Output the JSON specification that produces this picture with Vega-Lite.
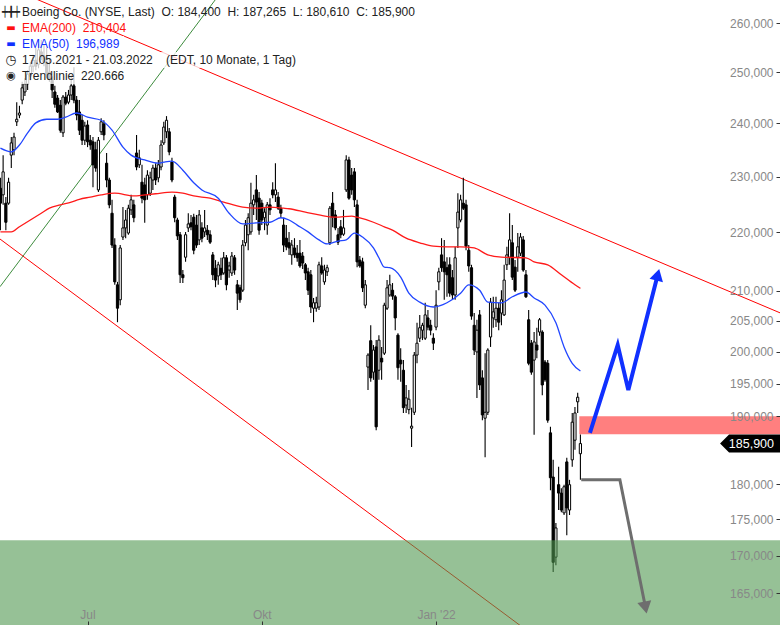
{
  "$schema": "https://vega.github.io/schema/vega-lite/v6.json",
  "width": 780,
  "height": 625,
  "autosize": {"type": "none"},
  "padding": 0,
  "background": "#ffffff",
  "config": {"view": {"stroke": null}, "font": "Liberation Sans"},
  "datasets": {
    "candles": [
      {"t":0,"o":227.9,"h":229.8,"l":220.4,"c":225.2},{"t":1,"o":226.7,"h":234.0,"l":224.9,"c":230.9},{"t":2,"o":225.2,"h":226.3,"l":220.4,"c":221.8},{"t":3,"o":225.2,"h":229.8,"l":224.9,"c":229.0},{"t":4,"o":234.0,"h":237.4,"l":231.6,"c":236.3},
      {"t":5,"o":235.0,"h":238.2,"l":234.0,"c":237.4},{"t":6,"o":240.3,"h":244.1,"l":239.5,"c":240.8},{"t":7,"o":241.6,"h":243.4,"l":241.0,"c":242.0},{"t":8,"o":244.5,"h":248.1,"l":243.7,"c":246.9},{"t":9,"o":246.1,"h":248.8,"l":245.3,"c":247.7},
      {"t":10,"o":247.7,"h":250.4,"l":246.5,"c":249.6},{"t":11,"o":249.2,"h":252.0,"l":248.4,"c":251.2},{"t":12,"o":251.2,"h":253.5,"l":250.0,"c":252.4},{"t":13,"o":252.4,"h":254.9,"l":250.4,"c":251.2},{"t":14,"o":251.6,"h":255.7,"l":250.8,"c":254.5},
      {"t":15,"o":254.1,"h":256.5,"l":252.4,"c":253.3},{"t":16,"o":253.3,"h":255.5,"l":251.2,"c":252.0},{"t":17,"o":252.0,"h":254.9,"l":248.8,"c":249.6},{"t":18,"o":250.0,"h":252.8,"l":248.1,"c":248.8},{"t":19,"o":248.4,"h":249.2,"l":244.9,"c":246.5},
      {"t":20,"o":246.1,"h":247.3,"l":243.0,"c":243.7},{"t":21,"o":244.9,"h":245.5,"l":242.0,"c":242.2},{"t":22,"o":243.5,"h":244.5,"l":238.2,"c":238.7},{"t":23,"o":238.2,"h":245.5,"l":237.4,"c":245.1},{"t":24,"o":245.1,"h":246.1,"l":243.5,"c":243.9},
      {"t":25,"o":244.1,"h":246.5,"l":243.7,"c":245.5},{"t":26,"o":245.5,"h":249.4,"l":244.5,"c":247.3},{"t":27,"o":247.3,"h":251.0,"l":243.9,"c":244.5},{"t":28,"o":244.5,"h":245.3,"l":240.6,"c":241.6},{"t":29,"o":242.2,"h":244.5,"l":237.8,"c":238.7},
      {"t":30,"o":240.6,"h":241.6,"l":235.9,"c":236.8},{"t":31,"o":236.8,"h":240.3,"l":235.9,"c":239.5},{"t":32,"o":239.7,"h":240.6,"l":235.5,"c":236.5},{"t":33,"o":236.8,"h":237.8,"l":235.0,"c":235.9},{"t":34,"o":236.5,"h":237.4,"l":228.1,"c":232.2},
      {"t":35,"o":235.0,"h":236.5,"l":230.9,"c":231.6},{"t":36,"o":227.6,"h":237.4,"l":227.2,"c":236.8},{"t":37,"o":238.4,"h":241.0,"l":237.8,"c":240.3},{"t":38,"o":239.9,"h":240.6,"l":236.8,"c":237.8},{"t":39,"o":232.5,"h":234.4,"l":228.1,"c":229.4},
      {"t":40,"o":229.4,"h":229.8,"l":224.3,"c":224.9},{"t":41,"o":223.4,"h":225.8,"l":217.3,"c":217.8},{"t":42,"o":217.8,"h":219.0,"l":211.0,"c":211.5},{"t":43,"o":211.0,"h":211.5,"l":204.8,"c":207.1},{"t":44,"o":208.5,"h":217.8,"l":207.6,"c":217.3},
      {"t":45,"o":219.2,"h":224.5,"l":218.7,"c":220.8},{"t":46,"o":220.8,"h":224.0,"l":219.0,"c":222.2},{"t":47,"o":219.9,"h":224.9,"l":219.6,"c":224.3},{"t":48,"o":224.0,"h":226.7,"l":223.1,"c":225.8},{"t":49,"o":224.9,"h":225.8,"l":221.8,"c":222.6},
      {"t":50,"o":234.4,"h":237.8,"l":231.2,"c":231.8},{"t":51,"o":232.2,"h":235.0,"l":231.6,"c":233.5},{"t":52,"o":229.0,"h":232.2,"l":225.2,"c":226.1},{"t":53,"o":228.5,"h":229.8,"l":221.7,"c":225.8},{"t":54,"o":226.7,"h":231.2,"l":225.8,"c":230.3},
      {"t":55,"o":227.0,"h":230.9,"l":226.5,"c":229.8},{"t":56,"o":229.4,"h":232.2,"l":227.6,"c":231.6},{"t":57,"o":231.6,"h":232.5,"l":228.5,"c":229.4},{"t":58,"o":229.8,"h":233.1,"l":229.0,"c":232.2},{"t":59,"o":231.8,"h":236.8,"l":231.2,"c":235.9},
      {"t":60,"o":236.3,"h":240.3,"l":235.9,"c":239.3},{"t":61,"o":238.4,"h":241.4,"l":237.2,"c":240.6},{"t":62,"o":238.4,"h":239.1,"l":234.0,"c":234.6},{"t":63,"o":232.7,"h":233.5,"l":229.0,"c":229.4},{"t":64,"o":226.3,"h":226.7,"l":221.8,"c":222.6},
      {"t":65,"o":222.2,"h":222.6,"l":218.7,"c":219.4},{"t":66,"o":219.6,"h":220.1,"l":211.3,"c":212.7},{"t":67,"o":212.7,"h":213.5,"l":211.3,"c":212.2},{"t":68,"o":215.7,"h":220.1,"l":214.9,"c":219.6},{"t":69,"o":220.8,"h":223.4,"l":220.1,"c":221.5},
      {"t":70,"o":221.7,"h":223.1,"l":220.4,"c":221.0},{"t":71,"o":222.7,"h":223.3,"l":216.2,"c":216.9},{"t":72,"o":221.3,"h":223.1,"l":217.3,"c":217.8},{"t":73,"o":218.7,"h":224.0,"l":217.8,"c":223.1},{"t":74,"o":220.8,"h":221.8,"l":218.3,"c":219.0},
      {"t":75,"o":220.1,"h":224.0,"l":219.2,"c":220.8},{"t":76,"o":220.4,"h":221.3,"l":218.7,"c":219.6},{"t":77,"o":219.6,"h":220.4,"l":218.0,"c":218.3},{"t":78,"o":216.1,"h":216.6,"l":211.8,"c":212.7},{"t":79,"o":213.8,"h":215.2,"l":210.6,"c":211.8},
      {"t":80,"o":212.5,"h":214.9,"l":211.0,"c":214.4},{"t":81,"o":213.8,"h":215.6,"l":211.8,"c":212.7},{"t":82,"o":213.0,"h":216.6,"l":212.7,"c":215.6},{"t":83,"o":215.6,"h":216.1,"l":210.1,"c":211.0},{"t":84,"o":213.5,"h":214.9,"l":212.2,"c":214.2},
      {"t":85,"o":213.0,"h":216.6,"l":212.5,"c":215.9},{"t":86,"o":215.6,"h":216.1,"l":212.7,"c":213.5},{"t":87,"o":211.0,"h":211.8,"l":206.8,"c":209.6},{"t":88,"o":210.5,"h":211.0,"l":208.0,"c":208.5},{"t":89,"o":210.1,"h":218.7,"l":209.8,"c":217.8},
      {"t":90,"o":218.2,"h":222.2,"l":217.6,"c":221.3},{"t":91,"o":219.6,"h":223.4,"l":216.9,"c":222.6},{"t":92,"o":220.1,"h":228.9,"l":219.6,"c":225.2},{"t":93,"o":224.9,"h":226.7,"l":223.1,"c":225.8},{"t":94,"o":227.6,"h":230.3,"l":222.2,"c":225.4},
      {"t":95,"o":226.1,"h":227.2,"l":219.6,"c":220.4},{"t":96,"o":225.2,"h":225.8,"l":221.3,"c":222.2},{"t":97,"o":222.6,"h":224.3,"l":220.4,"c":223.6},{"t":98,"o":221.3,"h":225.4,"l":219.6,"c":224.9},{"t":99,"o":224.9,"h":226.1,"l":223.1,"c":224.0},
      {"t":100,"o":227.6,"h":229.0,"l":226.1,"c":226.7},{"t":101,"o":226.7,"h":232.5,"l":225.4,"c":227.6},{"t":102,"o":226.3,"h":227.2,"l":224.0,"c":224.3},{"t":103,"o":224.3,"h":224.9,"l":222.6,"c":223.4},{"t":104,"o":221.3,"h":222.6,"l":216.6,"c":217.8},
      {"t":105,"o":219.0,"h":221.3,"l":216.9,"c":217.5},{"t":106,"o":218.2,"h":220.1,"l":216.1,"c":217.3},{"t":107,"o":216.1,"h":218.7,"l":214.4,"c":217.8},{"t":108,"o":217.3,"h":219.0,"l":215.6,"c":216.1},{"t":109,"o":216.4,"h":217.8,"l":214.9,"c":215.6},
      {"t":110,"o":216.4,"h":218.7,"l":213.9,"c":214.2},{"t":111,"o":215.9,"h":216.6,"l":213.7,"c":214.7},{"t":112,"o":214.4,"h":214.7,"l":211.8,"c":213.0},{"t":113,"o":213.2,"h":213.9,"l":209.3,"c":210.1},{"t":114,"o":212.7,"h":213.5,"l":206.3,"c":207.3},
      {"t":115,"o":207.1,"h":208.8,"l":204.8,"c":208.0},{"t":116,"o":207.1,"h":209.0,"l":206.5,"c":208.0},{"t":117,"o":207.3,"h":214.9,"l":206.8,"c":214.4},{"t":118,"o":214.2,"h":215.7,"l":212.7,"c":213.0},{"t":119,"o":211.5,"h":214.4,"l":211.0,"c":213.5},
      {"t":120,"o":213.2,"h":214.4,"l":212.5,"c":213.9},{"t":121,"o":218.2,"h":224.7,"l":217.8,"c":224.3},{"t":122,"o":225.2,"h":227.2,"l":220.9,"c":222.7},{"t":123,"o":223.1,"h":224.0,"l":220.4,"c":220.8},{"t":124,"o":219.6,"h":220.8,"l":217.8,"c":218.3},
      {"t":125,"o":221.0,"h":222.2,"l":219.0,"c":219.6},{"t":126,"o":219.7,"h":224.0,"l":219.4,"c":220.8},{"t":127,"o":227.6,"h":234.0,"l":227.2,"c":233.1},{"t":128,"o":233.1,"h":233.7,"l":225.8,"c":226.1},{"t":129,"o":230.3,"h":231.6,"l":226.7,"c":227.6},
      {"t":130,"o":230.9,"h":231.6,"l":224.5,"c":225.8},{"t":131,"o":224.9,"h":225.8,"l":214.0,"c":214.9},{"t":132,"o":215.2,"h":215.9,"l":213.9,"c":214.2},{"t":133,"o":214.9,"h":215.6,"l":209.8,"c":210.5},{"t":134,"o":207.6,"h":211.8,"l":207.1,"c":211.0},
      {"t":135,"o":197.6,"h":199.8,"l":194.0,"c":199.5},{"t":136,"o":201.8,"h":204.3,"l":195.3,"c":195.9},{"t":137,"o":196.8,"h":201.1,"l":195.6,"c":200.3},{"t":138,"o":200.8,"h":201.9,"l":187.9,"c":188.4},{"t":139,"o":197.1,"h":202.7,"l":195.6,"c":201.9},
      {"t":140,"o":199.0,"h":200.8,"l":195.6,"c":198.4},{"t":141,"o":199.8,"h":208.0,"l":199.5,"c":207.6},{"t":142,"o":207.1,"h":211.8,"l":206.8,"c":210.5},{"t":143,"o":209.3,"h":212.7,"l":209.0,"c":211.0},{"t":144,"o":210.1,"h":211.3,"l":208.5,"c":209.1},
      {"t":145,"o":209.0,"h":209.3,"l":203.5,"c":205.5},{"t":146,"o":202.7,"h":203.0,"l":195.6,"c":197.5},{"t":147,"o":198.7,"h":200.6,"l":195.3,"c":198.1},{"t":148,"o":197.1,"h":198.7,"l":190.5,"c":191.3},{"t":149,"o":191.7,"h":194.8,"l":190.5,"c":192.8},
      {"t":150,"o":191.0,"h":194.0,"l":190.3,"c":192.6},{"t":151,"o":188.2,"h":191.3,"l":185.4,"c":188.5},{"t":152,"o":190.6,"h":200.0,"l":190.2,"c":199.5},{"t":153,"o":199.5,"h":204.7,"l":198.2,"c":201.4},{"t":154,"o":202.2,"h":206.0,"l":201.6,"c":203.9},
      {"t":155,"o":203.5,"h":204.7,"l":201.9,"c":204.3},{"t":156,"o":202.2,"h":208.0,"l":201.9,"c":206.0},{"t":157,"o":205.5,"h":206.8,"l":203.5,"c":204.0},{"t":158,"o":204.3,"h":205.2,"l":202.7,"c":203.5},{"t":159,"o":202.2,"h":203.0,"l":200.3,"c":201.4},
      {"t":160,"o":204.0,"h":210.1,"l":203.5,"c":207.6},{"t":161,"o":211.5,"h":213.9,"l":210.1,"c":213.2},{"t":162,"o":216.1,"h":219.0,"l":213.2,"c":213.9},{"t":163,"o":214.9,"h":218.7,"l":208.5,"c":213.2},{"t":164,"o":213.9,"h":215.7,"l":209.0,"c":212.7},
      {"t":165,"o":214.4,"h":215.7,"l":209.0,"c":209.6},{"t":166,"o":212.2,"h":213.5,"l":208.5,"c":209.3},{"t":167,"o":209.3,"h":217.5,"l":208.5,"c":215.6},{"t":168,"o":220.8,"h":227.0,"l":217.3,"c":223.6},{"t":169,"o":222.2,"h":226.7,"l":221.8,"c":225.8},
      {"t":170,"o":225.2,"h":229.8,"l":224.0,"c":224.3},{"t":171,"o":224.9,"h":225.8,"l":216.9,"c":217.6},{"t":172,"o":216.9,"h":217.8,"l":213.2,"c":214.2},{"t":173,"o":213.9,"h":214.4,"l":205.2,"c":205.8},{"t":174,"o":204.3,"h":206.3,"l":199.5,"c":200.3},
      {"t":175,"o":200.0,"h":205.2,"l":192.8,"c":203.5},{"t":176,"o":206.0,"h":206.8,"l":194.0,"c":194.8},{"t":177,"o":195.9,"h":197.1,"l":189.4,"c":190.2},{"t":178,"o":189.7,"h":199.8,"l":183.9,"c":190.6},{"t":179,"o":190.6,"h":200.6,"l":190.2,"c":200.3},
      {"t":180,"o":202.4,"h":208.8,"l":200.8,"c":208.1},{"t":181,"o":205.5,"h":209.0,"l":203.9,"c":206.5},{"t":182,"o":205.2,"h":209.0,"l":204.0,"c":207.1},{"t":183,"o":207.1,"h":208.0,"l":203.5,"c":204.8},{"t":184,"o":206.3,"h":210.1,"l":204.3,"c":208.5},
      {"t":185,"o":206.0,"h":214.4,"l":205.8,"c":211.8},{"t":186,"o":214.4,"h":217.5,"l":213.5,"c":216.1},{"t":187,"o":215.7,"h":223.4,"l":214.4,"c":218.7},{"t":188,"o":218.2,"h":221.3,"l":211.8,"c":212.3},{"t":189,"o":214.0,"h":215.2,"l":209.8,"c":210.1},
      {"t":190,"o":215.7,"h":219.9,"l":213.2,"c":217.5},{"t":191,"o":216.4,"h":219.9,"l":215.9,"c":219.2},{"t":192,"o":218.7,"h":219.4,"l":213.2,"c":213.5},{"t":193,"o":212.7,"h":213.5,"l":208.8,"c":209.0},{"t":194,"o":205.2,"h":206.8,"l":197.9,"c":198.2},
      {"t":195,"o":201.4,"h":201.9,"l":196.4,"c":196.8},{"t":196,"o":198.7,"h":203.2,"l":187.2,"c":201.6},{"t":197,"o":201.1,"h":203.9,"l":199.0,"c":200.3},{"t":198,"o":203.2,"h":205.5,"l":202.6,"c":205.2},{"t":199,"o":203.2,"h":203.5,"l":193.2,"c":194.8},
      {"t":200,"o":198.4,"h":198.7,"l":195.3,"c":195.6},{"t":201,"o":198.2,"h":198.7,"l":189.0,"c":189.4},{"t":202,"o":187.5,"h":188.4,"l":179.1,"c":180.9},{"t":203,"o":181.0,"h":183.5,"l":167.8,"c":169.1},{"t":204,"o":169.8,"h":174.5,"l":168.7,"c":173.8},
      {"t":205,"o":179.9,"h":182.5,"l":176.3,"c":178.7},{"t":206,"o":178.7,"h":179.4,"l":176.0,"c":176.3},{"t":207,"o":175.9,"h":179.9,"l":175.6,"c":179.6},{"t":208,"o":183.2,"h":183.8,"l":172.8,"c":176.6},{"t":209,"o":176.3,"h":180.6,"l":175.6,"c":179.9},
      {"t":210,"o":183.5,"h":190.5,"l":182.5,"c":189.1},{"t":211,"o":186.4,"h":191.4,"l":185.0,"c":190.5},{"t":212,"o":192.2,"h":193.6,"l":190.5,"c":192.9},{"t":213,"o":184.4,"h":187.265,"l":180.61,"c":185.9}
    ],
    "ema200": [
      {"t":0,"v":220.1},{"t":4,"v":220.1},{"t":7,"v":221.0},{"t":11,"v":222.2},{"t":15,"v":223.4},{"t":18,"v":224.3},{"t":22,"v":224.9},{"t":26,"v":225.4},{"t":29,"v":225.9},{"t":33,"v":226.3},
      {"t":37,"v":226.7},{"t":42,"v":227.0},{"t":49,"v":226.5},{"t":53,"v":226.7},{"t":57,"v":226.9},{"t":63,"v":227.2},{"t":67,"v":227.0},{"t":71,"v":226.5},{"t":77,"v":226.1},{"t":82,"v":225.4},
      {"t":89,"v":224.5},{"t":94,"v":224.3},{"t":99,"v":224.5},{"t":104,"v":224.3},{"t":106,"v":224.2},{"t":112,"v":223.6},{"t":117,"v":223.1},{"t":123,"v":222.7},{"t":129,"v":222.9},{"t":131,"v":222.7},
      {"t":137,"v":221.8},{"t":141,"v":221.0},{"t":144,"v":220.4},{"t":149,"v":219.0},{"t":154,"v":218.2},{"t":159,"v":217.6},{"t":164,"v":217.5},{"t":169,"v":217.5},{"t":174,"v":217.3},{"t":179,"v":216.1},
      {"t":184,"v":215.7},{"t":193,"v":215.6},{"t":196,"v":214.9},{"t":201,"v":214.4},{"t":206,"v":212.7},{"t":211,"v":211.0},{"t":213,"v":210.404}
    ],
    "ema50": [
      {"t":0,"v":235.3},{"t":4,"v":234.6},{"t":7,"v":235.9},{"t":10,"v":238.2},{"t":13,"v":240.1},{"t":17,"v":240.8},{"t":21,"v":240.8},{"t":24,"v":241.2},{"t":28,"v":242.0},{"t":32,"v":241.2},
      {"t":37,"v":240.6},{"t":41,"v":238.7},{"t":45,"v":235.5},{"t":48,"v":234.0},{"t":53,"v":233.1},{"t":58,"v":232.5},{"t":60,"v":232.7},{"t":63,"v":232.9},{"t":67,"v":231.2},{"t":71,"v":228.9},
      {"t":74,"v":227.6},{"t":80,"v":226.1},{"t":84,"v":223.4},{"t":89,"v":221.5},{"t":94,"v":221.7},{"t":99,"v":221.8},{"t":103,"v":222.6},{"t":106,"v":222.2},{"t":109,"v":221.3},{"t":113,"v":220.1},
      {"t":117,"v":218.7},{"t":120,"v":218.0},{"t":124,"v":218.5},{"t":127,"v":218.7},{"t":130,"v":219.9},{"t":133,"v":219.2},{"t":137,"v":217.3},{"t":139,"v":215.6},{"t":141,"v":214.0},{"t":143,"v":213.9},
      {"t":147,"v":212.3},{"t":150,"v":209.6},{"t":154,"v":208.1},{"t":159,"v":207.3},{"t":164,"v":208.0},{"t":169,"v":209.6},{"t":172,"v":211.0},{"t":176,"v":210.1},{"t":179,"v":208.1},{"t":184,"v":208.0},
      {"t":188,"v":209.0},{"t":193,"v":209.8},{"t":196,"v":208.8},{"t":200,"v":207.6},{"t":204,"v":204.7},{"t":207,"v":200.8},{"t":210,"v":198.2},{"t":213,"v":196.989}
    ],
    "channel": [
      {"line":"upper","t":10,"v":265.8},{"line":"upper","t":286.3,"v":206.34},
      {"line":"lower","t":-0.15,"v":218.85},{"line":"lower","t":192.0,"v":160.5}
    ],
    "trendGreen": [
      {"t":-0.15,"v":210.68},{"t":79.6,"v":265.4}
    ],
    "upArrow": [
      {"k":0,"t":216.5,"v":187.5},{"k":1,"t":226.7,"v":201.1},{"k":2,"t":230.6,"v":194.0},{"k":3,"t":241.4,"v":212.7}
    ],
    "downArrow": [
      {"k":0,"t":213.3,"v":180.61},{"k":1,"t":227.5,"v":180.6},{"k":2,"t":236.8,"v":163.3}
    ]
  },
  "layer": [
    {
      "data": {"name": "channel"},
      "mark": {"type": "line", "color": "#ff0000", "strokeWidth": 1, "clip": true},
      "encoding": {
        "x": {
          "field": "t", "type": "quantitative",
          "scale": {"domain": [-0.147, 286.3], "nice": false, "zero": false, "padding": 0},
          "axis": {
            "orient": "bottom", "values": [32, 96, 160],
            "labelExpr": "datum.value == 32 ? 'Jul' : datum.value == 96 ? 'Okt' : \"Jan '22\"",
            "domain": false, "grid": false, "ticks": true, "tickSize": -4, "tickColor": "#333333",
            "labelColor": "#888888", "labelFont": "Liberation Sans", "labelFontSize": 12,
            "labelPadding": -2.5, "labelBaseline": "alphabetic", "labelFlush": false,
            "labelOverlap": false, "title": null, "zindex": 1
          }
        },
        "y": {
          "field": "v", "type": "quantitative",
          "scale": {"type": "log", "domain": [160.85, 264.83], "nice": false, "padding": 0},
          "axis": {
            "orient": "right",
            "values": [165, 170, 175, 180, 190, 195, 200, 205, 210, 220, 230, 240, 250, 260],
            "labelExpr": "replace(format(datum.value, '.3f'), '.', ',')",
            "domain": false, "grid": false, "ticks": true, "tickSize": -4, "tickColor": "#333333",
            "labelColor": "#888888", "labelFont": "Liberation Sans", "labelFontSize": 12,
            "labelPadding": -3, "labelAlign": "right", "labelBaseline": "middle",
            "labelFlush": false, "labelOverlap": false, "title": null, "zindex": 1
          }
        },
        "detail": {"field": "line"}
      }
    },
    {
      "data": {"name": "trendGreen"},
      "mark": {"type": "line", "color": "#3d8c3d", "strokeWidth": 1, "clip": true},
      "encoding": {
        "x": {"field": "t", "type": "quantitative"},
        "y": {"field": "v", "type": "quantitative"}
      }
    },
    {
      "data": {"name": "candles"},
      "mark": {"type": "rule", "color": "#000000", "strokeWidth": 1.1},
      "encoding": {
        "x": {"field": "t", "type": "quantitative"},
        "y": {"field": "l", "type": "quantitative"},
        "y2": {"field": "h"}
      }
    },
    {
      "data": {"name": "candles"},
      "mark": {"type": "bar", "size": 2.2, "stroke": "#000000", "strokeWidth": 1},
      "encoding": {
        "x": {"field": "t", "type": "quantitative"},
        "y": {"field": "o", "type": "quantitative"},
        "y2": {"field": "c"},
        "fill": {"condition": {"test": "datum.c >= datum.o", "value": "#ffffff"}, "value": "#000000"}
      }
    },
    {
      "data": {"name": "ema200"},
      "mark": {"type": "line", "color": "#ff1a1a", "strokeWidth": 1.3, "interpolate": "monotone", "clip": true},
      "encoding": {
        "x": {"field": "t", "type": "quantitative"},
        "y": {"field": "v", "type": "quantitative"}
      }
    },
    {
      "data": {"name": "ema50"},
      "mark": {"type": "line", "color": "#2146ff", "strokeWidth": 1.3, "interpolate": "monotone", "clip": true},
      "encoding": {
        "x": {"field": "t", "type": "quantitative"},
        "y": {"field": "v", "type": "quantitative"}
      }
    },
    {
      "data": {"values": [{}]},
      "mark": {"type": "rect", "color": "#509750", "opacity": 0.6},
      "encoding": {
        "x": {"datum": -0.147, "type": "quantitative"},
        "x2": {"datum": 286.3},
        "y": {"datum": 172.1, "type": "quantitative"},
        "y2": {"datum": 160.85}
      }
    },
    {
      "data": {"values": [{}]},
      "mark": {"type": "rect", "color": "#ff0000", "opacity": 0.5},
      "encoding": {
        "x": {"datum": 212.6, "type": "quantitative"},
        "x2": {"datum": 286.3},
        "y": {"datum": 190.0, "type": "quantitative"},
        "y2": {"datum": 187.3}
      }
    },
    {
      "data": {"name": "upArrow"},
      "mark": {"type": "line", "color": "#1030ff", "strokeWidth": 4, "strokeJoin": "miter"},
      "encoding": {
        "x": {"field": "t", "type": "quantitative"},
        "y": {"field": "v", "type": "quantitative"},
        "order": {"field": "k"}
      }
    },
    {
      "data": {"values": [{}]},
      "mark": {"type": "point", "shape": "triangle-up", "filled": true, "size": 190, "angle": 14.3, "color": "#1030ff", "opacity": 1},
      "encoding": {
        "x": {"datum": 241.4, "type": "quantitative"},
        "y": {"datum": 212.7, "type": "quantitative"}
      }
    },
    {
      "data": {"name": "downArrow"},
      "mark": {"type": "line", "color": "#6e6e6e", "strokeWidth": 3, "strokeJoin": "miter"},
      "encoding": {
        "x": {"field": "t", "type": "quantitative"},
        "y": {"field": "v", "type": "quantitative"},
        "order": {"field": "k"}
      }
    },
    {
      "data": {"values": [{}]},
      "mark": {"type": "point", "shape": "triangle-up", "filled": true, "size": 200, "angle": 168.7, "color": "#6e6e6e", "opacity": 1},
      "encoding": {
        "x": {"datum": 236.9, "type": "quantitative"},
        "y": {"datum": 163.1, "type": "quantitative"}
      }
    },
    {
      "data": {"values": [{}]},
      "mark": {"type": "point", "shape": "M-1,0L-0.7,-0.3L1,-0.3L1,0.3L-0.7,0.3Z", "filled": true, "size": 3600, "color": "#000000", "opacity": 1},
      "encoding": {
        "x": {"datum": 275.3, "type": "quantitative"},
        "y": {"datum": 185.9, "type": "quantitative"}
      }
    },
    {
      "data": {"values": [{}]},
      "mark": {"type": "text", "color": "#ffffff", "font": "Liberation Sans", "fontSize": 12.5, "align": "center", "baseline": "middle"},
      "encoding": {
        "x": {"datum": 275.8, "type": "quantitative"},
        "y": {"datum": 185.9, "type": "quantitative"},
        "text": {"value": "185,900"}
      }
    },
    {
      "data": {"values": [{}]},
      "mark": {"type": "rect", "color": "#ffffff", "opacity": 0.78},
      "encoding": {
        "x": {"datum": 0.6, "type": "quantitative"},
        "x2": {"datum": 45.4},
        "y": {"datum": 257.33, "type": "quantitative"},
        "y2": {"datum": 254.07}
      }
    },
    {
      "data": {"values": [{}]},
      "mark": {"type": "rect", "color": "#ffffff", "opacity": 0.78},
      "encoding": {
        "x": {"datum": 0.6, "type": "quantitative"},
        "x2": {"datum": 110.0},
        "y": {"datum": 254.07, "type": "quantitative"},
        "y2": {"datum": 250.84}
      }
    },
    {
      "data": {"values": [{}]},
      "mark": {"type": "rect", "color": "#ffffff", "opacity": 0.78},
      "encoding": {
        "x": {"datum": 0.6, "type": "quantitative"},
        "x2": {"datum": 48.0},
        "y": {"datum": 250.84, "type": "quantitative"},
        "y2": {"datum": 247.66}
      }
    },
    {
      "data": {"values": [{}]},
      "mark": {"type": "text", "color": "#222222", "font": "DejaVu Sans", "fontSize": 10, "align": "center", "baseline": "middle"},
      "encoding": {
        "x": {"datum": 3.9, "type": "quantitative"},
        "y": {"datum": 262.3, "type": "quantitative"},
        "text": {"value": "┿╋┿"}
      }
    },
    {
      "data": {"values": [{}]},
      "mark": {"type": "text", "color": "#222222", "font": "Liberation Sans", "fontSize": 12, "align": "left", "baseline": "middle"},
      "encoding": {
        "x": {"datum": 7.93, "type": "quantitative"},
        "y": {"datum": 262.3, "type": "quantitative"},
        "text": {"value": "Boeing Co. (NYSE, Last)\u00a0 O: 184,400\u00a0 H: 187,265\u00a0 L: 180,610\u00a0 C: 185,900"}
      }
    },
    {
      "data": {"values": [{}]},
      "mark": {"type": "text", "color": "#ff1010", "font": "DejaVu Sans", "fontSize": 10, "align": "center", "baseline": "middle"},
      "encoding": {
        "x": {"datum": 3.9, "type": "quantitative"},
        "y": {"datum": 258.98, "type": "quantitative"},
        "text": {"value": "▬"}
      }
    },
    {
      "data": {"values": [{}]},
      "mark": {"type": "text", "color": "#ff1010", "font": "Liberation Sans", "fontSize": 12, "align": "left", "baseline": "middle"},
      "encoding": {
        "x": {"datum": 7.93, "type": "quantitative"},
        "y": {"datum": 258.98, "type": "quantitative"},
        "text": {"value": "EMA(200)\u00a0 210,404"}
      }
    },
    {
      "data": {"values": [{}]},
      "mark": {"type": "text", "color": "#1030ff", "font": "DejaVu Sans", "fontSize": 10, "align": "center", "baseline": "middle"},
      "encoding": {
        "x": {"datum": 3.9, "type": "quantitative"},
        "y": {"datum": 255.69, "type": "quantitative"},
        "text": {"value": "▬"}
      }
    },
    {
      "data": {"values": [{}]},
      "mark": {"type": "text", "color": "#1030ff", "font": "Liberation Sans", "fontSize": 12, "align": "left", "baseline": "middle"},
      "encoding": {
        "x": {"datum": 7.93, "type": "quantitative"},
        "y": {"datum": 255.69, "type": "quantitative"},
        "text": {"value": "EMA(50)\u00a0 196,989"}
      }
    },
    {
      "data": {"values": [{}]},
      "mark": {"type": "text", "color": "#222222", "font": "DejaVu Sans", "fontSize": 13, "align": "center", "baseline": "middle"},
      "encoding": {
        "x": {"datum": 3.9, "type": "quantitative"},
        "y": {"datum": 252.45, "type": "quantitative"},
        "text": {"value": "◷"}
      }
    },
    {
      "data": {"values": [{}]},
      "mark": {"type": "text", "color": "#222222", "font": "Liberation Sans", "fontSize": 12, "align": "left", "baseline": "middle"},
      "encoding": {
        "x": {"datum": 7.93, "type": "quantitative"},
        "y": {"datum": 252.45, "type": "quantitative"},
        "text": {"value": "17.05.2021 - 21.03.2022\u00a0\u00a0\u00a0 (EDT, 10 Monate, 1 Tag)"}
      }
    },
    {
      "data": {"values": [{}]},
      "mark": {"type": "text", "color": "#222222", "font": "DejaVu Sans", "fontSize": 11, "align": "center", "baseline": "middle"},
      "encoding": {
        "x": {"datum": 3.9, "type": "quantitative"},
        "y": {"datum": 249.25, "type": "quantitative"},
        "text": {"value": "◉"}
      }
    },
    {
      "data": {"values": [{}]},
      "mark": {"type": "text", "color": "#222222", "font": "Liberation Sans", "fontSize": 12, "align": "left", "baseline": "middle"},
      "encoding": {
        "x": {"datum": 7.93, "type": "quantitative"},
        "y": {"datum": 249.25, "type": "quantitative"},
        "text": {"value": "Trendlinie\u00a0 220.666"}
      }
    }
  ]
}
